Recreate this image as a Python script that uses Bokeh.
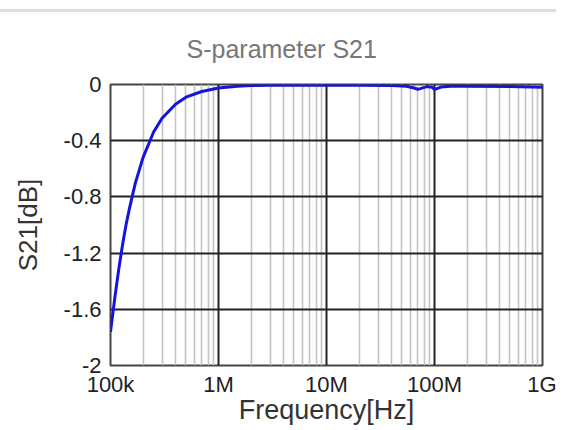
from bokeh.plotting import figure
from bokeh.models import FixedTicker
from bokeh.embed import file_html
from bokeh.resources import INLINE

# ---- data ----
freq_hz = [1.0e5, 1.1e5, 1.2e5, 1.3e5, 1.4e5, 1.5e5, 1.7e5, 2.0e5, 2.5e5, 3.0e5,
           4.0e5, 5.0e5, 7.0e5, 1.0e6, 1.5e6, 2.0e6, 3.0e6, 5.0e6, 1.0e7, 2.0e7,
           4.0e7, 5.5e7, 6.5e7, 7.0e7, 7.5e7, 8.5e7, 9.5e7, 1.0e8, 1.05e8, 1.15e8,
           1.4e8, 2.0e8, 5.0e8, 1.0e9]
s21_db = [-1.76, -1.51, -1.30, -1.13, -0.99, -0.88, -0.70, -0.52, -0.34, -0.24,
          -0.14, -0.09, -0.05, -0.025, -0.012, -0.008, -0.006, -0.005, -0.005, -0.006,
          -0.008, -0.012, -0.025, -0.035, -0.028, -0.015, -0.02, -0.035, -0.03, -0.018,
          -0.012, -0.012, -0.015, -0.02]

x_ticks = [100000, 1000000, 10000000, 100000000, 1000000000]
x_tick_labels = ["100k", "1M", "10M", "100M", "1G"]
y_ticks = [0, -0.4, -0.8, -1.2, -1.6, -2]
y_tick_labels = ["0", "-0.4", "-0.8", "-1.2", "-1.6", "-2"]

title_text = "S-parameter S21"
x_label = "Frequency[Hz]"
y_label = "S21[dB]"

FONT = "Liberation Sans"

p = figure(width=556, height=430, x_axis_type="log",
           x_range=(x_ticks[0], x_ticks[-1]), y_range=(y_ticks[-1], y_ticks[0]),
           output_backend="svg", toolbar_location=None,
           min_border_left=110, min_border_right=14,
           min_border_top=84, min_border_bottom=65)

p.border_fill_alpha = 0
p.styles = {"background": "linear-gradient(#ffffff 9px, #dddddd 9px, #dddddd 12px, #ffffff 12px)"}

p.title.text = title_text
p.title.align = "left"
p.title.offset = 76
p.title.standoff = 43
p.title.text_font = FONT
p.title.text_font_size = "25px"
p.title.text_font_style = "normal"
p.title.text_color = "#777777"

minor = [m * t for t in x_ticks[:-1] for m in range(2, 10)]
p.xaxis.ticker = FixedTicker(ticks=x_ticks, minor_ticks=minor)
p.xaxis.major_label_overrides = dict(zip(x_ticks, x_tick_labels))
p.yaxis.ticker = FixedTicker(ticks=y_ticks)
p.yaxis.major_label_overrides = dict(zip(y_ticks, y_tick_labels))

for ax in (p.xaxis, p.yaxis):
    ax.axis_line_color = None
    ax.major_tick_line_color = None
    ax.minor_tick_line_color = None
    ax.major_label_text_font = FONT
    ax.major_label_text_font_size = "22px"
    ax.major_label_text_color = "#222222"
    ax.axis_label_text_font = FONT
    ax.axis_label_text_font_style = "normal"
    ax.axis_label_text_color = "#333333"

p.xaxis.axis_label = x_label
p.yaxis.axis_label = y_label
p.xaxis.axis_label_text_font_size = "27px"
p.yaxis.axis_label_text_font_size = "26px"
p.xaxis.major_label_standoff = 0
p.yaxis.major_label_standoff = 3
p.xaxis.axis_label_standoff = -5
p.yaxis.axis_label_standoff = 18

p.xgrid.grid_line_color = "#222222"
p.xgrid.grid_line_width = 2
p.xgrid.minor_grid_line_color = "#c4c4c4"
p.xgrid.minor_grid_line_width = 1.6
p.ygrid.grid_line_color = "#222222"
p.ygrid.grid_line_width = 2

p.outline_line_color = "#444444"
p.outline_line_width = 2
p.background_fill_color = "white"

p.line(freq_hz, s21_db, line_color="#1414dc", line_width=3)

open("out.html", "w").write(file_html(p, INLINE))
